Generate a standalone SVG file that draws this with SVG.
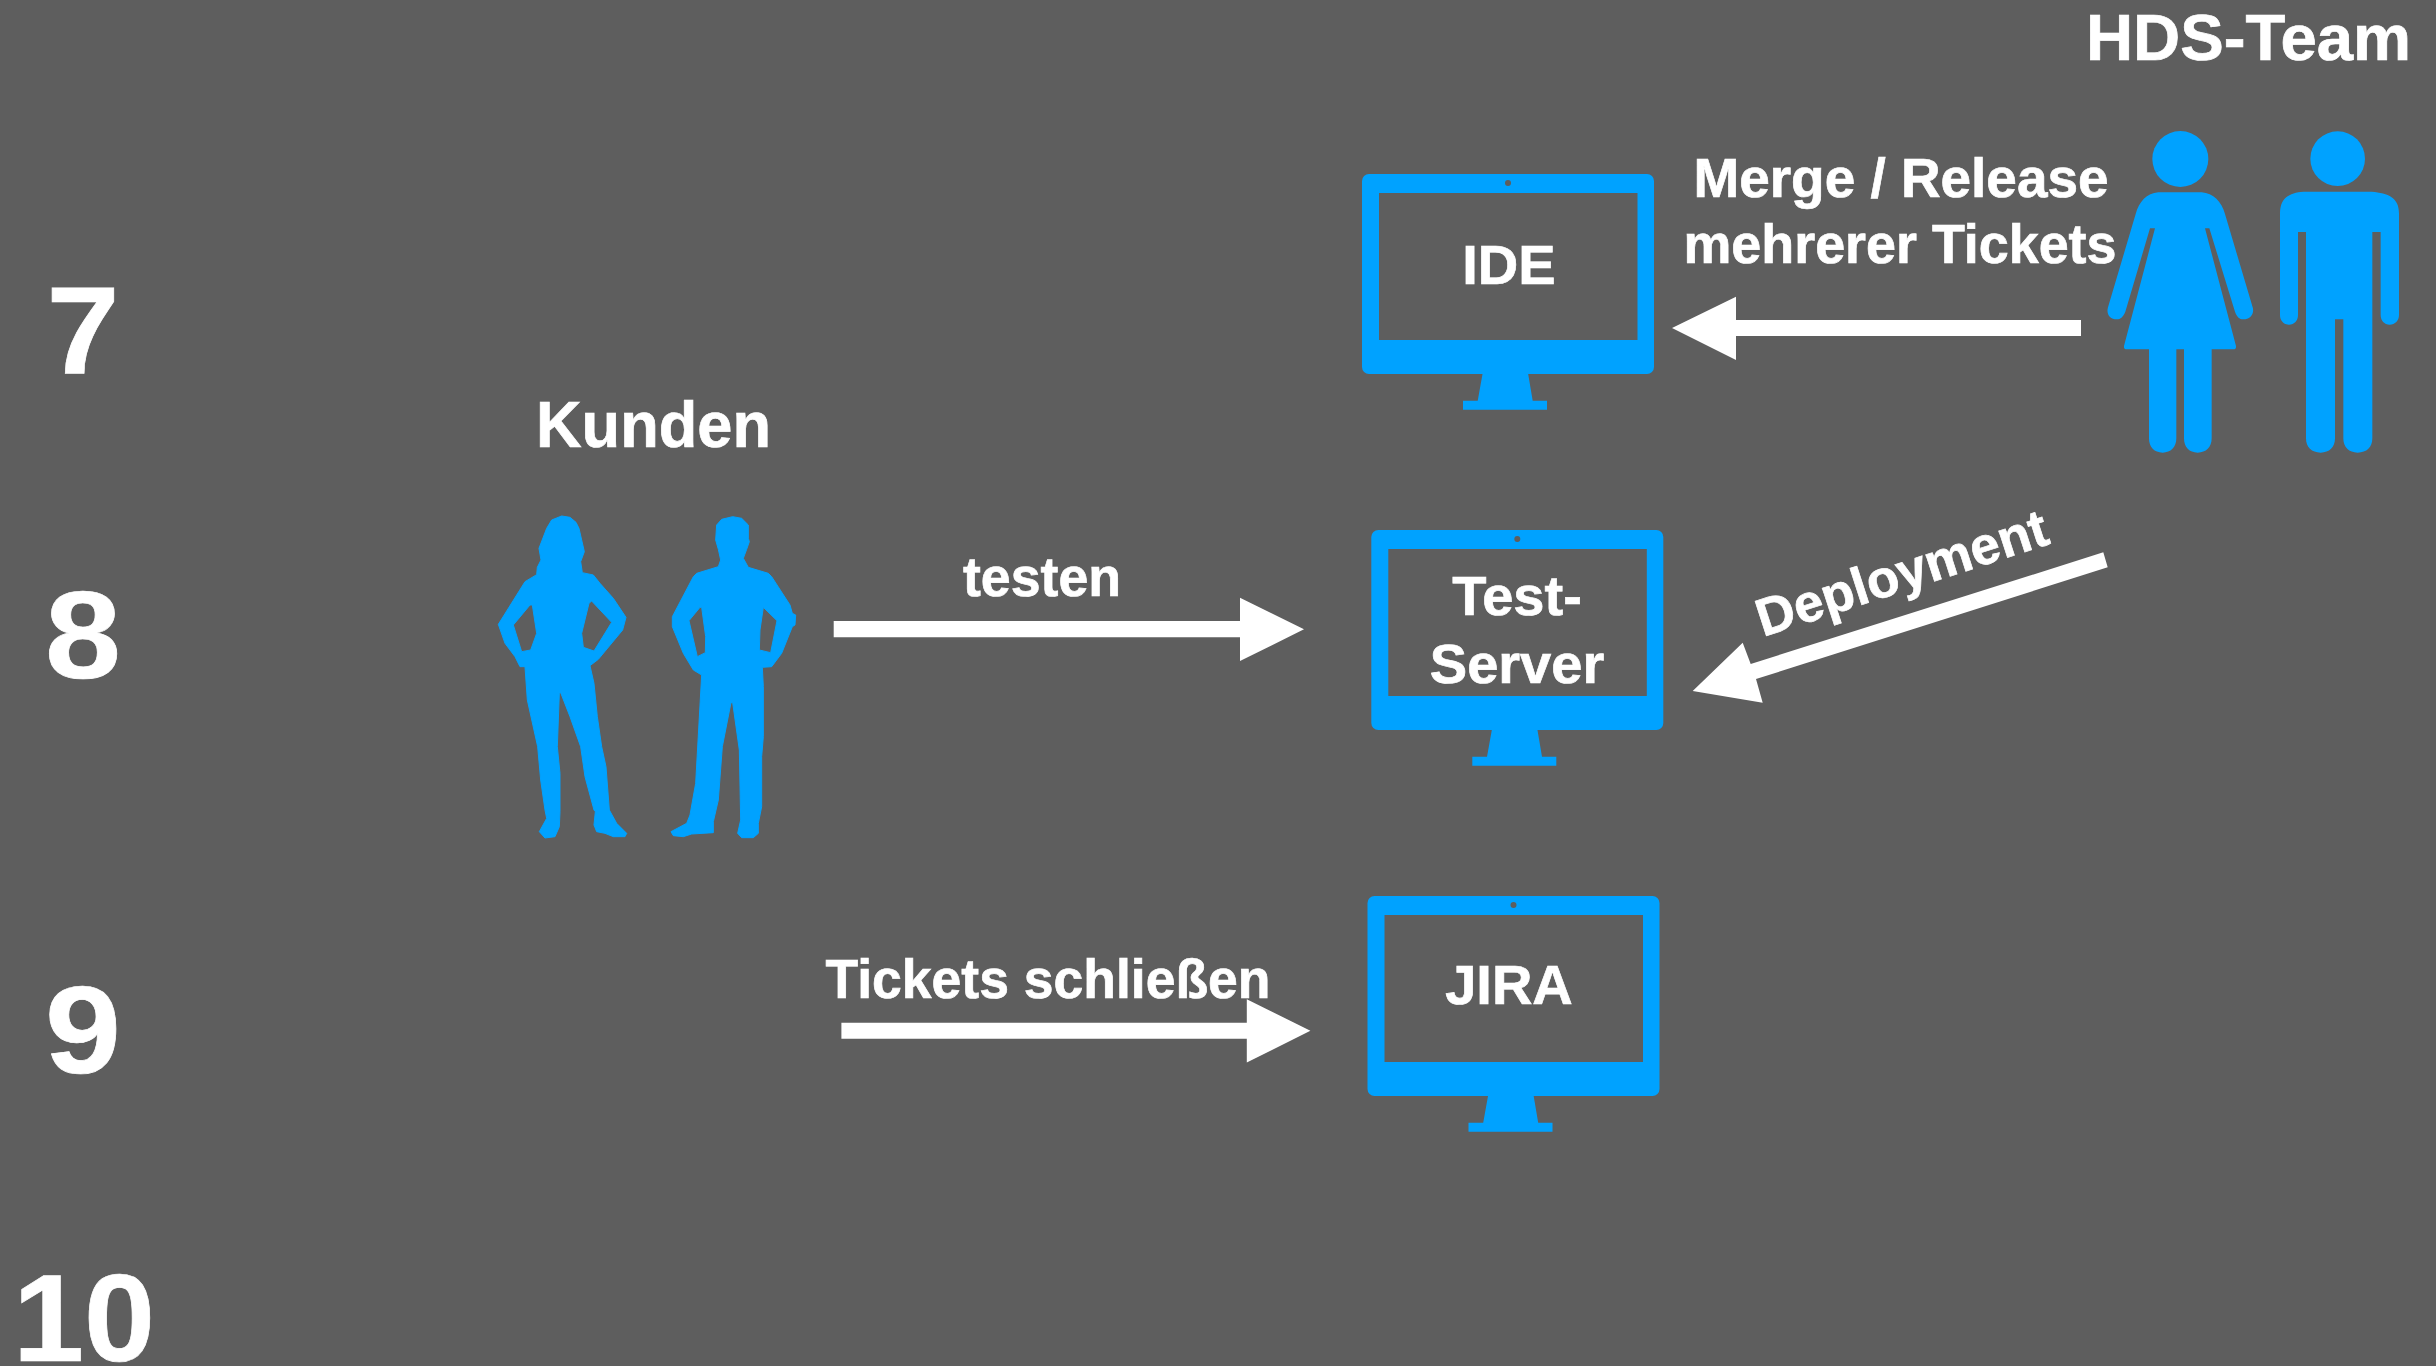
<svg xmlns="http://www.w3.org/2000/svg" xmlns:xlink="http://www.w3.org/1999/xlink" width="2436" height="1366" viewBox="0 0 2436 1366">
<style>
.t{font-family:"Liberation Sans",Arial,sans-serif;font-weight:700;fill:#fff;stroke:#fff;stroke-width:.7}
.m{text-anchor:middle}
.l{font-size:56px}
.n{font-size:125px;text-anchor:middle}
.b{fill:#00a2ff}
.bs{fill:#00a2ff;stroke:#00a2ff;stroke-width:3;stroke-linejoin:round;fill-rule:evenodd}
.a{fill:#fff}
.g{fill:#5e5e5e}
</style>
<defs>
<g id="monitor">
<rect class="b" x="1362" y="174" width="292" height="200" rx="7"/>
<rect class="g" x="1379" y="193" width="258.5" height="147"/>
<circle class="g" cx="1508" cy="183" r="3"/>
<path class="b" d="M1482.7 373L1528 373L1532.7 400.7L1547 400.7L1547 409.7L1463 409.7L1463 400.7L1477.7 400.7Z"/>
</g>
</defs>
<rect width="2436" height="1366" fill="#5e5e5e"/>
<g id="row-numbers">
<text class="t n" x="83" y="374" textLength="73" lengthAdjust="spacingAndGlyphs">7</text>
<text class="t n" x="83" y="678" textLength="76" lengthAdjust="spacingAndGlyphs">8</text>
<text class="t n" x="83" y="1073" textLength="76" lengthAdjust="spacingAndGlyphs">9</text>
<text class="t n" x="84" y="1361" textLength="142" lengthAdjust="spacingAndGlyphs">10</text>
</g>
<g id="connectors">
<path class="a" d="M2081 320L1736 320L1736 296.700L1672 328L1736 360L1736 336L2081 336Z"/>
<path class="a" d="M2103.300 552.300L1750.700 664L1742.700 642.700L1692.700 691L1762.700 702.700L1756 679L2107.700 567.300Z"/>
<path class="a" d="M833.700 621L1240 621L1240 597.700L1304 629.300L1240 661L1240 637.300L833.700 637.300Z"/>
<path class="a" d="M841.400 1022.700L1246.800 1022.700L1246.800 999.300L1310.400 1030.700L1246.800 1062.500L1246.800 1038.700L841.400 1038.700Z"/>
</g>
<g id="hds-team">
<text class="t" x="2086" y="60" font-size="64" textLength="325" lengthAdjust="spacingAndGlyphs">HDS-Team</text>
<g transform="translate(2080 110) scale(.33333)">
<circle class="b" cx="301" cy="147" r="84"/>
<path class="b" d="M235 247L365 247C400 250 425 275 435 312L518 592C524 612 510 628 490 628C478 628 470 620 465 605L388 355L375 355L468 708Q469 718 460 718L395 718L395 985C395 1012 378 1028 353 1028C328 1028 312 1012 312 985L312 718L289 718L289 985C289 1012 272 1028 248 1028C223 1028 207 1012 207 985L207 718L140 718Q131 718 132 708L225 355L210 355L136 605C130 620 122 628 110 628C90 628 78 612 84 592L167 312C177 275 200 250 235 247Z"/>
<circle class="b" cx="773" cy="146" r="82"/>
<path class="b" d="M670 245L875 245C925 250 957 262 957 310L957 615C957 632 945 644 929 644C913 644 902 632 902 615L902 366L877 366L877 985C877 1012 860 1028 833 1028C807 1028 790 1012 790 985L790 628L765 628L765 985C765 1012 748 1028 722 1028C695 1028 678 1012 678 985L678 366L654 366L654 615C654 632 643 644 627 644C611 644 600 632 600 615L600 310C600 262 630 248 670 245Z"/>
</g>
</g>
<g id="kunden">
<text class="t" x="536" y="447" font-size="64" textLength="235" lengthAdjust="spacingAndGlyphs">Kunden</text>
<g transform="translate(470 490) scale(.33333)">
<path class="bs" d="M275 78L300 82L318 97L327 115L335 150L343 185L332 215L337 248L370 255L390 280L430 325L468 382L458 420L385 508L360 527L372 580L382 680L395 770L408 830L418 960L440 1000L470 1030L465 1040L430 1040L405 1030L380 1025L372 1005L376 965L372 960L345 860L332 770L300 680L272 608L268 610L262 770L270 850L270 965L268 1010L255 1040L225 1044L208 1025L230 985L225 960L212 870L203 770L172 630L165 530L150 530L135 500L105 460L85 403L165 275L200 254L202 232L213 210L207 175L230 115L245 90ZM180 345L130 405L155 485L182 480L200 430L187 345ZM365 333L425 397L372 483L340 472L335 430L357 340Z"/>
<path class="bs" d="M788 80L815 85L835 105L835 145L838 155L830 178L820 205L835 232L895 250L905 260L960 345L967 370L977 375L975 405L967 410L935 490L905 530L877 532L880 590L880 740L875 800L875 950L865 1000L865 1030L850 1043L815 1043L803 1030L812 990L808 780L788 638L783 638L757 770L745 930L730 995L730 1028L665 1032L640 1040L610 1037L603 1025L650 1000L660 975L677 880L695 555L670 540L640 490L607 410L607 380L670 260L680 250L745 230L752 210L745 178L737 150L740 105L755 88ZM690 352L657 392L682 500L706 488L707 440L695 352ZM880 352L921 392L902 488L868 480L870 420Z"/>
</g>
</g>
<g id="ide">
<use xlink:href="#monitor" href="#monitor"/>
<text class="t l m" x="1509" y="284">IDE</text>
</g>
<g id="test-server">
<use xlink:href="#monitor" href="#monitor" x="9.300" y="356"/>
<text class="t l m" x="1517" y="615">Test-</text>
<text class="t l m" x="1517" y="683">Server</text>
</g>
<g id="jira">
<use xlink:href="#monitor" href="#monitor" x="5.500" y="722"/>
<text class="t l m" x="1509" y="1004">JIRA</text>
</g>
<g id="labels">
<text class="t l m" x="1901" y="197" textLength="415" lengthAdjust="spacingAndGlyphs">Merge / Release</text>
<text class="t l m" x="1900" y="263" textLength="433" lengthAdjust="spacingAndGlyphs">mehrerer Tickets</text>
<text class="t l m" x="1042" y="596" textLength="158" lengthAdjust="spacingAndGlyphs">testen</text>
<text class="t l m" x="1048" y="998" textLength="445" lengthAdjust="spacingAndGlyphs">Tickets schließen</text>
<text class="t" font-size="53" transform="translate(1763 637) rotate(-18)">Deployment</text>
</g>
</svg>
